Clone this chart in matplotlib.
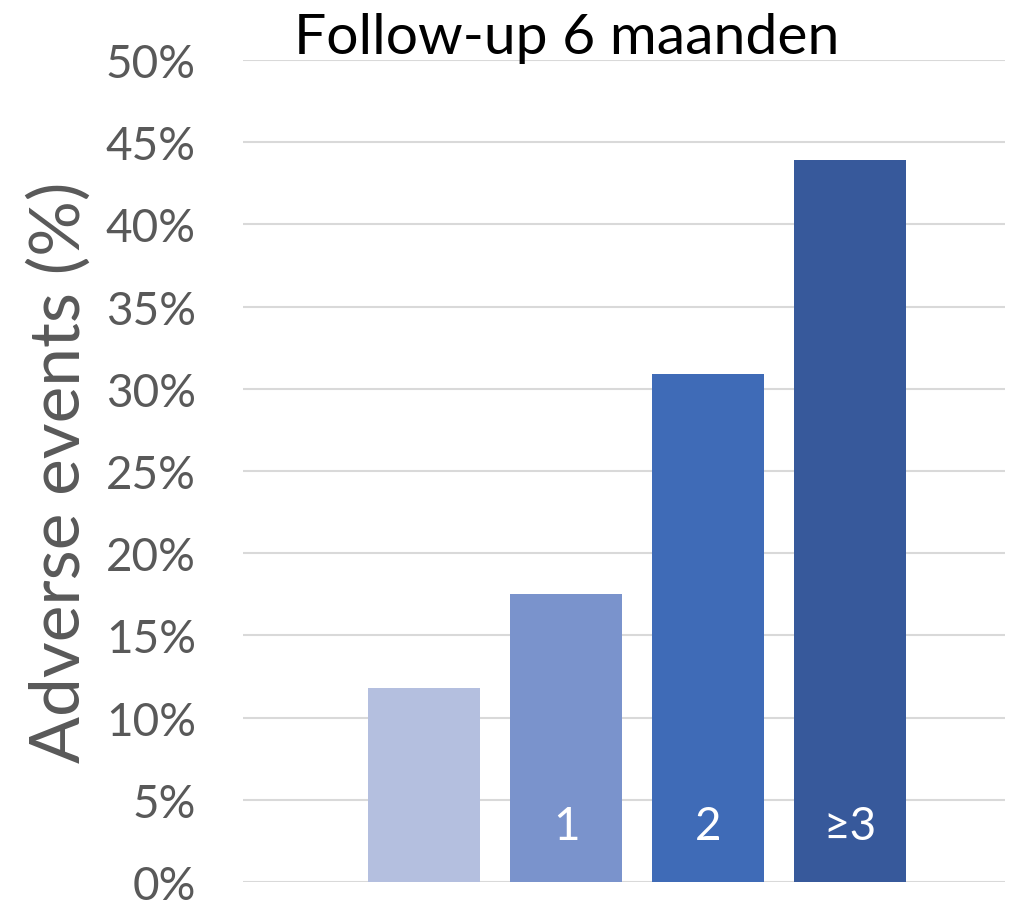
import matplotlib.pyplot as plt
from matplotlib.ticker import FuncFormatter

# adverse events per group, follow-up 6 months
groups = ["", "1", "2", "≥3"]
events_pct = [11.8, 17.5, 30.9, 43.9]
bar_colors = ["#B4BFDF", "#7A93CC", "#3F6BB7", "#37599B"]
yticks = [0, 5, 10, 15, 20, 25, 30, 35, 40, 45, 50]

plt.rcParams['font.family'] = ['Lato', 'DejaVu Sans']

fig = plt.figure(figsize=(10.31, 9.03), dpi=100)
ax = fig.add_axes([243 / 1031, 1 - 883 / 903, 762 / 1031, 822 / 903])

x = range(len(groups))
ax.bar(x, events_pct, width=0.79, color=bar_colors, zorder=2)

for i, g in enumerate(groups):
    ax.text(i, 3.4, g, ha="center", va="center", color="white", fontsize=33, zorder=3)

ax.set_xlim(-1.275, 4.09)
ax.set_ylim(0, 50)
ax.set_yticks(yticks)
ax.yaxis.set_major_formatter(FuncFormatter(lambda v, p: f"{v:.0f}%"))
ax.tick_params(axis="y", length=0, pad=34, labelsize=33, labelcolor="#595959")
ax.set_xticks([])
ax.grid(axis="y", color="#D9D9D9", linewidth=1.5, zorder=0)
for s in ax.spines.values():
    s.set_visible(False)

ax.set_ylabel("Adverse events (%)", fontsize=50, color="#595959", labelpad=10)
fig.text(567 / 1031, 1 - 38 / 903, "Follow-up 6 maanden", ha="center", va="center",
         fontsize=41, color="black")

fig.savefig("out.png", dpi=100)
